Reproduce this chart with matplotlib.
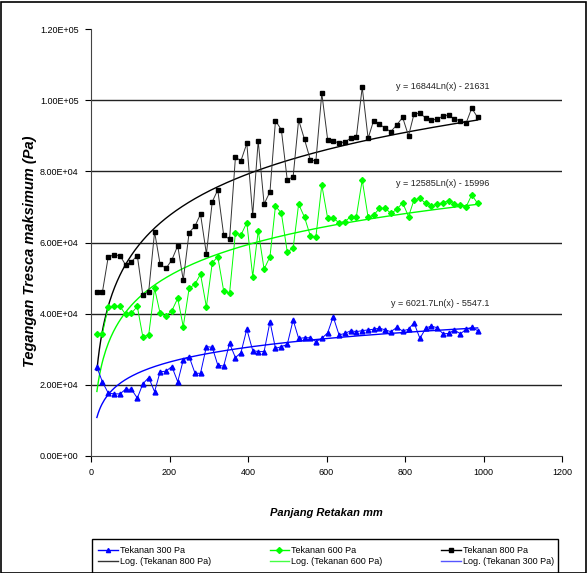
import numpy as np
import matplotlib
matplotlib.use("Agg")
import matplotlib.pyplot as plt
from matplotlib.lines import Line2D
from matplotlib.patches import Rectangle
from matplotlib.ticker import FuncFormatter

plt.rcParams['font.family'] = ['Liberation Sans', 'DejaVu Sans']

# crack length (mm)
panjang = [15, 29, 44, 59, 74, 88, 103, 118, 132, 147, 162, 176, 191, 206, 221, 235,
           250, 265, 279, 294, 309, 323, 338, 353, 368, 382, 397, 412, 426, 441, 456, 470, 485,
           500, 515, 529, 544, 559, 573, 588, 603, 617, 632, 647, 662, 676, 691, 706, 720, 735,
           750, 764, 779, 794, 809, 823, 838, 853, 867, 882, 897, 911, 926, 941, 956, 970, 985]

# max Tresca stress, x1000 Pa
tek800 = [46.0, 46.0, 56.0, 56.5, 56.3, 53.7, 54.6, 56.3, 45.2, 46.2, 63.0, 53.9, 52.7, 55.1, 59.1, 49.4,
          62.8, 64.6, 68.0, 56.8, 71.5, 74.8, 62.1, 60.9, 84.0, 83.0, 87.9, 67.7, 88.6, 70.8, 74.3, 94.3, 91.7,
          77.6, 78.5, 94.5, 89.0, 83.2, 83.0, 102.0, 88.9, 88.7, 87.9, 88.4, 89.3, 89.6, 103.7, 89.3, 94.3, 93.3,
          92.1, 91.2, 93.1, 95.2, 90.0, 96.2, 96.4, 95.0, 94.5, 94.7, 95.6, 95.9, 94.7, 94.3, 93.7, 97.8, 95.2]
tek600 = [34.3, 34.3, 41.9, 42.0, 42.0, 39.8, 40.1, 42.0, 33.5, 34.0, 47.1, 40.1, 39.3, 40.8, 44.3, 36.3,
          47.1, 48.3, 51.1, 41.9, 54.3, 56.0, 46.4, 45.7, 62.8, 62.1, 65.6, 50.4, 63.3, 52.5, 56.0, 70.3, 68.2,
          57.4, 58.4, 70.8, 67.1, 61.8, 61.6, 76.2, 66.8, 66.8, 65.6, 65.9, 67.3, 67.3, 77.6, 67.1, 67.7, 69.6,
          69.6, 68.2, 69.3, 71.2, 67.3, 72.0, 72.4, 71.0, 70.3, 70.8, 71.2, 71.8, 70.8, 70.6, 70.1, 73.4, 71.0]
tek300 = [24.9, 20.8, 17.6, 17.4, 17.4, 18.7, 18.7, 16.2, 20.2, 22.0, 18.0, 23.6, 23.8, 25.1, 20.8, 26.9,
          27.9, 23.2, 23.2, 30.7, 30.5, 25.5, 25.2, 31.6, 27.6, 29.0, 35.6, 29.6, 29.3, 29.3, 37.7, 30.2, 30.7,
          31.3, 38.2, 33.0, 33.2, 33.2, 32.1, 33.0, 34.6, 39.1, 34.0, 34.4, 35.2, 34.9, 35.2, 35.4, 35.6, 35.9,
          35.4, 34.9, 36.1, 35.1, 35.6, 37.4, 33.0, 35.9, 36.5, 36.0, 34.3, 34.4, 35.4, 34.3, 35.6, 36.1, 35.2]

# log trendline coefficients y = a*ln(x) + b
log_a = {'300': 6021.7, '600': 12585, '800': 16844}
log_b = {'300': -5547.1, '600': -15996, '800': -21631}
eq_text = {'800': 'y = 16844Ln(x) - 21631',
           '600': 'y = 12585Ln(x) - 15996',
           '300': 'y = 6021.7Ln(x) - 5547.1'}
eq_y = {'800': 104000, '600': 76500, '300': 42800}

x = np.array(panjang, dtype=float)
series = {'300': np.array(tek300) * 1000,
          '600': np.array(tek600) * 1000,
          '800': np.array(tek800) * 1000}
colors = {'300': '#0000ff', '600': '#00ff00', '800': '#000000'}
markers = {'300': '^', '600': 'D', '800': 's'}
msize = {'300': 3.5, '600': 3.0, '800': 3.4}

fig = plt.figure(figsize=(5.88, 5.73), dpi=100)
ax = fig.add_axes([91 / 588, 1 - 455.7 / 573, 471 / 588, 426.4 / 573])

xs = np.linspace(x[0], x[-1], 300)
for key in ['800', '600', '300']:
    ax.plot(xs, log_a[key] * np.log(xs) + log_b[key], color=colors[key], lw=1.0, zorder=2)
for key in ['800', '600', '300']:
    lc = '#333333' if key == '800' else colors[key]
    ax.plot(x, series[key], color=lc, lw=0.7, marker=markers[key], ms=msize[key],
            mfc=colors[key], mec=colors[key], zorder=3)
    ax.text(1016, eq_y[key], eq_text[key], ha='right', va='center', fontsize=6.5, color='#222222')

ax.set_xlim(0, 1200)
ax.set_ylim(0, 120000)
ax.set_xticks(range(0, 1201, 200))
ax.set_yticks(range(0, 120001, 20000))
ax.yaxis.set_major_formatter(FuncFormatter(lambda v, p: format(v, '.2E')))
ax.tick_params(labelsize=6.5, length=4, width=0.8, direction='out', pad=5)
for yv in range(20000, 100001, 20000):
    ax.axhline(yv, color='#222222', lw=1.0, zorder=1)
ax.spines['top'].set_visible(False)
ax.spines['right'].set_visible(False)
ax.spines['left'].set_color('#444444')
ax.spines['bottom'].set_color('#444444')

ax.set_xlabel('Panjang Retakan mm', fontsize=8, fontweight='bold', fontstyle='italic')
ax.xaxis.set_label_coords(0.499, -0.123)
ax.set_ylabel('Tegangan Tresca maksimum (Pa)', fontsize=10.5, fontweight='bold', fontstyle='italic')
ax.yaxis.set_label_coords(-0.115, 0.48)

# legend box
fig.add_artist(Rectangle((92 / 588, -0.01), (558 - 92) / 588, 0.01 + 1 - 539 / 573,
                         transform=fig.transFigure, fill=False, edgecolor='black', lw=1.0))
h = lambda k, mk: Line2D([], [], color=colors[k], marker=mk, ms=3, lw=1.0)
handles = [h('300', '^'), h('800', None), h('600', 'D'), h('600', None), h('800', 's'), h('300', None)]
labels = ['Tekanan 300 Pa', 'Log. (Tekanan 800 Pa)', 'Tekanan 600 Pa', 'Log. (Tekanan 600 Pa)',
          'Tekanan 800 Pa', 'Log. (Tekanan 300 Pa)']
handles[5].set_color('#5555ff')
handles[1].set_color('#333333')
handles[3].set_color('#44ff44')
fig.legend(handles, labels, ncol=3, loc='center', bbox_to_anchor=(326 / 588, 1 - 556 / 573),
           frameon=False, fontsize=6.5, handlelength=2.2, handletextpad=0.2,
           columnspacing=6.5, labelspacing=0.2, borderpad=0)

# outer border
fig.add_artist(Rectangle((0.002, 0.0), 0.995, 0.997, transform=fig.transFigure,
                         fill=False, edgecolor='black', lw=1.2))

fig.savefig('out.png', dpi=100)
